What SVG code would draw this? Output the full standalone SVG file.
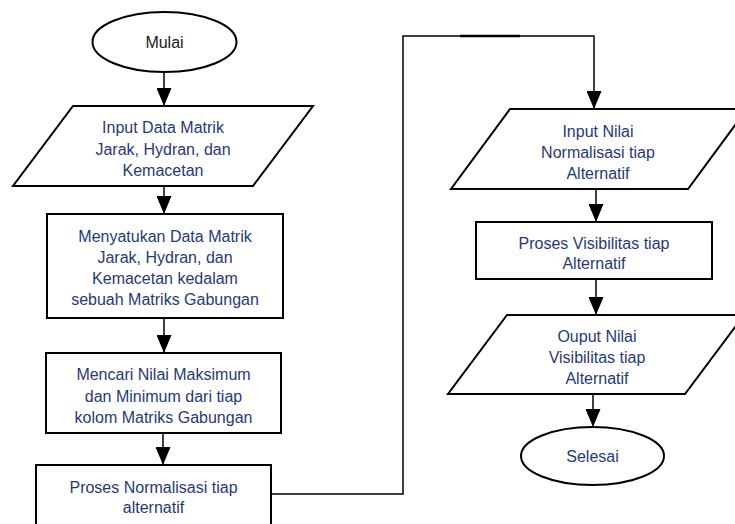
<svg xmlns="http://www.w3.org/2000/svg" width="735" height="524" viewBox="0 0 735 524">
<defs>
<marker id="arr" viewBox="0 0 18 15" refX="18" refY="7.5" markerWidth="18" markerHeight="15" orient="auto" markerUnits="userSpaceOnUse">
<path d="M0,0 L18,7.5 L0,15 Z" fill="#000"/>
</marker>
<clipPath id="clip3"><rect x="46" y="353" width="235" height="78"/></clipPath>
</defs>
<style>
.sh{fill:#fff;stroke:#000;stroke-width:2}
.t{font-family:"Liberation Sans",Arial,sans-serif;font-size:16px;fill:#1F3A78;text-anchor:middle}
.tb{fill:#1a1a1a}
.c{fill:none;stroke:#000;stroke-width:1.5}
</style>
<rect width="735" height="524" fill="#fff"/>
<g id="connectors">
<line class="c" x1="164" y1="72" x2="164" y2="106" marker-end="url(#arr)"/>
<line class="c" x1="164" y1="186" x2="164" y2="214" marker-end="url(#arr)"/>
<line class="c" x1="164" y1="318" x2="164" y2="353" marker-end="url(#arr)"/>
<line class="c" x1="163" y1="433" x2="163" y2="465" marker-end="url(#arr)"/>
<polyline class="c" points="271,494 403,494 403,36 594,36 594,109" marker-end="url(#arr)"/>
<line stroke="#000" stroke-width="2.5" x1="460" y1="36" x2="520" y2="36"/>
<line class="c" x1="596" y1="189" x2="596" y2="222" marker-end="url(#arr)"/>
<line class="c" x1="596" y1="279" x2="596" y2="315" marker-end="url(#arr)"/>
<line class="c" x1="593" y1="394" x2="593" y2="427" marker-end="url(#arr)"/>
</g>
<g id="mulai">
<ellipse class="sh" cx="164.5" cy="42" rx="72" ry="30"/>
<text class="t tb" x="164.5" y="48">Mulai</text>
</g>
<g id="input-data">
<polygon class="sh" points="73,106 313,106 253,186 13,186"/>
<text class="t" x="163" y="133">Input Data Matrik</text>
<text class="t" x="163" y="155">Jarak, Hydran, dan</text>
<text class="t" x="163" y="176">Kemacetan</text>
</g>
<g id="menyatukan">
<rect class="sh" x="47" y="214" width="236" height="104"/>
<text class="t" x="165" y="242">Menyatukan Data Matrik</text>
<text class="t" x="165" y="263">Jarak, Hydran, dan</text>
<text class="t" x="165" y="284">Kemacetan kedalam</text>
<text class="t" x="165" y="305">sebuah Matriks Gabungan</text>
</g>
<g id="mencari">
<rect class="sh" x="46" y="353" width="235" height="80"/>
<g clip-path="url(#clip3)">
<text class="t" x="163.5" y="380">Mencari Nilai Maksimum</text>
<text class="t" x="163.5" y="402">dan Minimum dari tiap</text>
<text class="t" x="163.5" y="423">kolom Matriks Gabungan</text>
</g>
</g>
<g id="normalisasi">
<rect class="sh" x="36" y="465" width="235" height="70"/>
<text class="t" x="153.5" y="493">Proses Normalisasi tiap</text>
<text class="t" x="153.5" y="513">alternatif</text>
</g>
<g id="input-nilai">
<polygon class="sh" points="510,109 747,109 688,189 451,189"/>
<text class="t" x="598" y="137">Input Nilai</text>
<text class="t" x="598" y="158">Normalisasi tiap</text>
<text class="t" x="598" y="179">Alternatif</text>
</g>
<g id="visibilitas">
<rect class="sh" x="476" y="222" width="236" height="57"/>
<text class="t" x="594" y="249">Proses Visibilitas tiap</text>
<text class="t" x="594" y="269">Alternatif</text>
</g>
<g id="output-nilai">
<polygon class="sh" points="507,315 744,315 685,394 448,394"/>
<text class="t" x="597" y="342">Ouput Nilai</text>
<text class="t" x="597" y="363">Visibilitas tiap</text>
<text class="t" x="597" y="384">Alternatif</text>
</g>
<g id="selesai">
<ellipse class="sh" cx="592.5" cy="456" rx="71.5" ry="29"/>
<text class="t" x="592.5" y="462">Selesai</text>
</g>
</svg>
